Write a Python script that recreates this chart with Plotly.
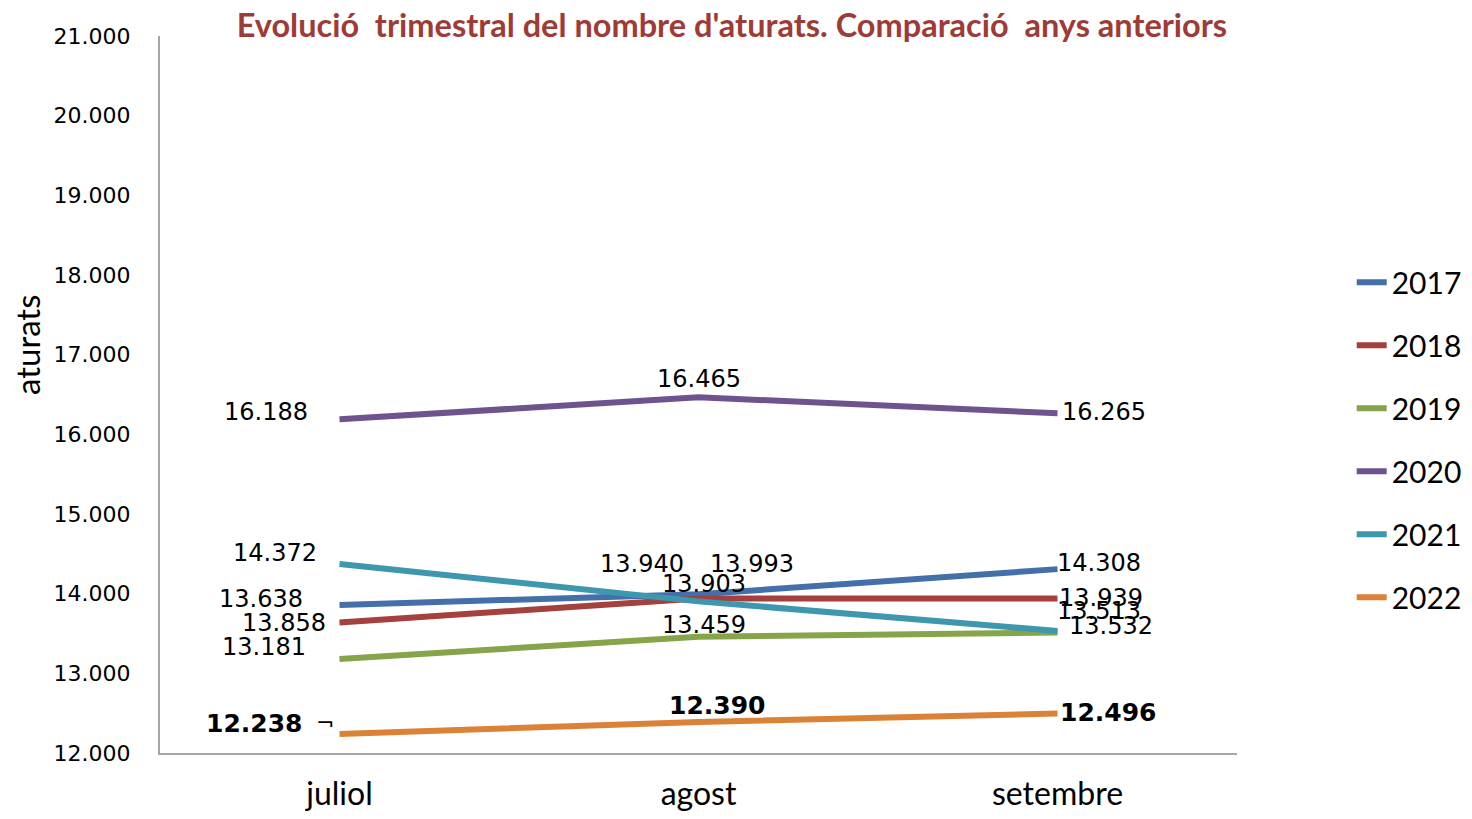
import plotly.graph_objects as go

months = ["juliol", "agost", "setembre"]
years = ["2017", "2018", "2019", "2020", "2021", "2022"]
v2017 = [13858, 13993, 14308]
v2018 = [13638, 13940, 13939]
v2019 = [13181, 13459, 13513]
v2020 = [16188, 16465, 16265]
v2021 = [14372, 13903, 13532]
v2022 = [12238, 12390, 12496]
series = [v2017, v2018, v2019, v2020, v2021, v2022]
colors = ["#4470A9", "#A4403E", "#86A44A", "#6E548E", "#3D97AF", "#DB8237"]

# label offsets in pixels (xshift, yshift, xanchor) per series per month
offsets = {
    "2017": [(-35, 6, "right"), (53, 30, "center"), (41, 6, "center")],
    "2018": [(-12, 0, "right"), (-57, 34, "center"), (43, 1, "center")],
    "2019": [(-32, 12, "right"), (5, 12, "center"), (41, 21, "center")],
    "2020": [(-30, 7, "right"), (0, 18, "center"), (46, 1, "center")],
    "2021": [(-21, 11, "right"), (5, 17, "center"), (53, 5, "center")],
    "2022": [(-36, 11, "right"), (18, 16, "center"), (50, 1, "center")],
}
# the original chart puts the July labels of 2017/2018 next to each other's line
label_swap = {("2017", 0): 13638, ("2018", 0): 13858}

fig = go.Figure()
annotations = []
for name, vals, col in zip(years, series, colors):
    fig.add_trace(go.Scatter(
        x=months, y=vals, name=name, mode="lines",
        line=dict(color=col, width=6),
        legendgroup=name,
    ))
    for i, (m, v, (dx, dy, xa)) in enumerate(zip(months, vals, offsets[name])):
        shown = label_swap.get((name, i), v)
        txt = f"{shown:,}".replace(",", ".")
        if name == "2022":
            txt = f"<b>{txt}</b>"
        annotations.append(dict(
            x=m, y=v, xref="x", yref="y", text=txt, showarrow=False,
            xshift=dx, yshift=dy, xanchor=xa, yanchor="middle",
            font=dict(family="DejaVu Sans", size=24 if name != "2022" else 25, color="black"),
        ))

# leader line of the first 2022 label
annotations.append(dict(
    x=months[0], y=v2022[0], xref="x", yref="y", text="¬", showarrow=False,
    xshift=-15, yshift=12, xanchor="center", yanchor="middle",
    font=dict(family="DejaVu Sans", size=22, color="black"),
))
# y axis title
annotations.append(dict(
    x=0, y=0.569, xref="paper", yref="paper", text="aturats", showarrow=False,
    textangle=-90, xshift=-133, xanchor="center", yanchor="middle",
    font=dict(family="Lato", size=33, color="black"),
))

fig.update_layout(
    width=1464, height=803,
    margin=dict(l=152, r=235, t=28, b=58, autoexpand=False),
    paper_bgcolor="white", plot_bgcolor="white",
    separators=",.",
    title=dict(
        text="<b>Evolució\u00a0 trimestral del nombre d'aturats. Comparació\u00a0 anys anteriors</b>",
        x=0.531, xanchor="center", xref="paper", y=0.978, yanchor="middle",
        font=dict(family="Lato", size=32.5, color="#9E3B37"),
    ),
    xaxis=dict(
        range=[-0.5, 2.5], showline=True, linecolor="#A6A6A6", linewidth=2,
        showgrid=False, zeroline=False, ticks="", automargin=False,
        ticklabelstandoff=12,
        tickfont=dict(family="Lato", size=32, color="black"),
    ),
    yaxis=dict(
        range=[12000, 21000], dtick=1000, tickformat=",d",
        showline=True, linecolor="#A6A6A6", linewidth=2,
        showgrid=False, zeroline=False, ticks="", automargin=False,
        ticklabelstandoff=23,
        tickfont=dict(family="DejaVu Sans", size=22, color="black"),
    ),
    legend=dict(
        x=1.1065, xanchor="left", xref="paper", y=0.437, yanchor="middle",
        font=dict(family="Lato", size=30, color="black"),
        tracegroupgap=21, bgcolor="rgba(0,0,0,0)",
    ),
    showlegend=True,
    annotations=annotations,
)

fig.write_html("out.html")
